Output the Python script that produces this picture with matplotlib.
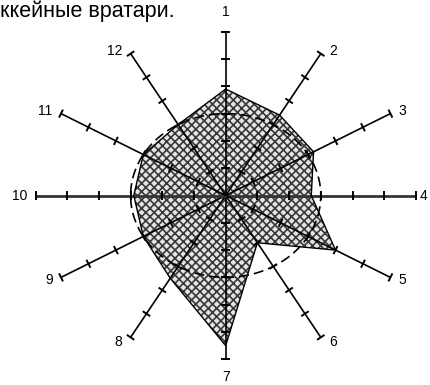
import numpy as np
import matplotlib
matplotlib.use('Agg')
import matplotlib.pyplot as plt

# radar data: 12 spokes, scale 0..6
labels = ['1', '2', '3', '4', '5', '6', '7', '8', '9', '10', '11', '12']
values = [3.9, 3.4, 3.2, 2.7, 4.0, 2.0, 5.5, 3.5, 3.0, 2.9, 3.0, 3.0]
ref_level = 3.0
scale_ticks = [1, 2, 3, 4, 5, 6]
title = 'ккейные вратари.'   # visible part of the heading

plt.rcParams['font.family'] = ['Liberation Sans', 'DejaVu Sans']
plt.rcParams['hatch.linewidth'] = 1.2

W, H, DPI = 430, 385, 100
cx, cy = 225.7, 195.5      # centre in pixels (from top-left)
sx, sy = 31.7, 27.3        # pixels per unit along x / y

fig = plt.figure(figsize=(W / DPI, H / DPI), dpi=DPI)
ax = fig.add_axes([0, 0, 1, 1])
ax.set_xlim(-cx / sx, (W - cx) / sx)
ax.set_ylim(-(H - cy) / sy, cy / sy)
ax.axis('off')

n = len(labels)
theta = np.arange(n) * 2 * np.pi / n
s, c = np.sin(theta), np.cos(theta)
rmax = scale_ticks[-1]

# filled polygon
v = np.array(values)
px = np.append(v * s, v[0] * s[0])
py = np.append(v * c, v[0] * c[0])
ax.fill(px, py, facecolor='#e4e4e4', edgecolor='#383838', hatch='xxxx', linewidth=0, zorder=1)

# spokes with tick marks
for i in range(n):
    horiz = abs(c[i]) < 1e-6
    ax.plot([0, rmax * s[i]], [0, rmax * c[i]], color='#333333' if horiz else 'black',
            lw=2.0 if horiz else 1.2, zorder=2, solid_capstyle='butt')
    # perpendicular in display space
    dxp, dyp = c[i] * sy, -s[i] * sx
    norm = np.hypot(dxp, dyp)
    tx, ty = dxp / norm * 3.5 / sx, dyp / norm * 3.5 / sy
    for t in scale_ticks:
        bx, by = t * s[i], t * c[i]
        ax.plot([bx - tx, bx + tx], [by - ty, by + ty], color='black', lw=1.4, zorder=2)

# reference circle (dashed)
phi = np.linspace(0, 2 * np.pi, 400)
ax.plot(ref_level * np.sin(phi), ref_level * np.cos(phi), color='black', lw=1.2,
        dashes=(6, 3), zorder=3)

# polygon outline
ax.plot(px, py, color='black', lw=1.0, zorder=4)

# spoke labels
for i in range(n):
    if abs(s[i]) < 0.1:
        ox, oy = 0, (14 if c[i] > 0 else -12.5)
        ha = 'center'
    else:
        ha = 'left' if s[i] > 0 else 'right'
        ox = 6 if s[i] > 0 else -6
        if c[i] > 0.1:
            oy = 2.2
        elif c[i] < -0.6:
            oy = -3.5
        elif c[i] < -0.1:
            oy = -2
        else:
            oy = 0
            if s[i] > 0:
                ox = 2.5   # keep the right-hand label inside the picture
    ax.annotate(labels[i], (rmax * s[i], rmax * c[i]), xytext=(ox, oy),
                textcoords='offset points', ha=ha, va='center', fontsize=10)

# heading, sized so it spans ~175 px from the left edge
t = fig.text(0, 1 - 17 / H, title, ha='left', va='baseline', fontsize=16)
fig.canvas.draw()
w = t.get_window_extent().width
t.set_fontsize(16 * 175 / w)

fig.savefig('out.png', dpi=DPI)
